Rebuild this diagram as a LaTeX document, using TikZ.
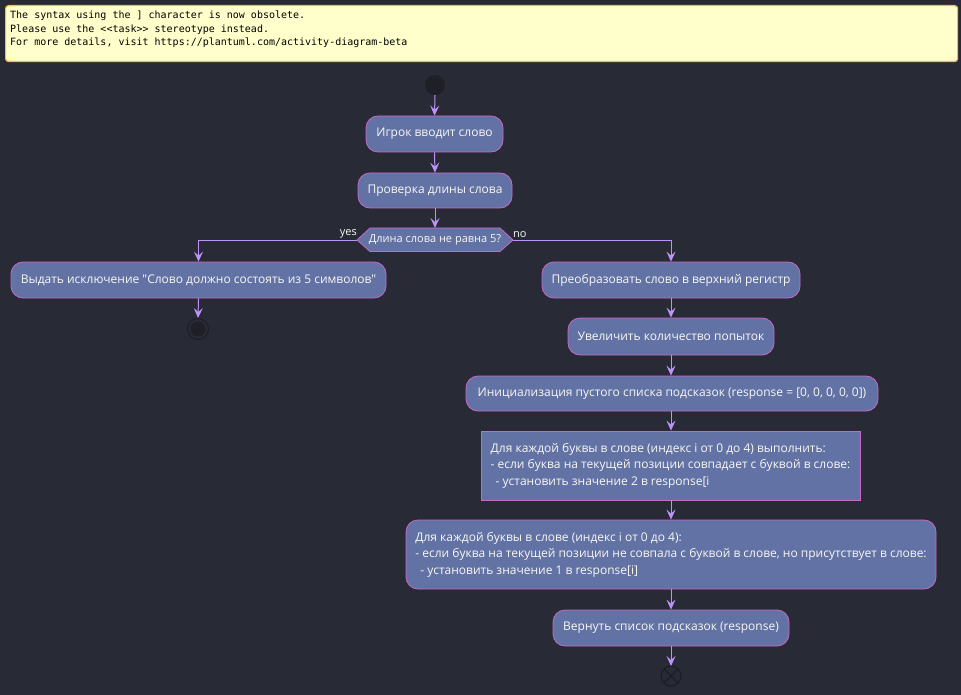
\documentclass[tikz,border=0pt]{standalone}
\usepackage{fontspec}
\newfontfamily\uifont{Open Sans}
\setmonofont{DejaVu Sans Mono}
\usetikzlibrary{arrows.meta}
\definecolor{bg}{HTML}{282A36}
\definecolor{notefill}{HTML}{FFFFCC}
\definecolor{noteline}{HTML}{F2B94B}
\definecolor{actfill}{HTML}{6272A4}
\definecolor{actline}{HTML}{C868C8}
\definecolor{flow}{HTML}{BD93F9}
\definecolor{txt}{HTML}{F8F8F2}
\definecolor{dot}{HTML}{1E1F27}
\definecolor{ring}{HTML}{1C1D24}
\tikzset{
  act/.style={draw=actline, fill=actfill, line width=0.8pt, rounded corners=12pt,
    text=txt, font=\uifont\fontsize{12}{16.5}\selectfont, inner sep=0pt},
  actbox/.style={act, rounded corners=0pt},
  flowline/.style={draw=flow, line width=1pt, -{Stealth[length=10pt, width=9pt, inset=4pt]}},
  lbl/.style={text=txt, font=\uifont\fontsize{11}{13}\selectfont, inner sep=0pt}
}
\begin{document}
\begin{tikzpicture}[x=1pt, y=-1pt]
\fill[bg] (0,0) rectangle (961,695);
\useasboundingbox (0,0) rectangle (961,695);

% warning note
\node[draw=noteline, fill=notefill, line width=1.2pt, rounded corners=3pt,
  minimum width=952, minimum height=56, anchor=north west, inner sep=0pt] (note) at (5,5) {};
\node[anchor=north west, inner sep=0pt, align=left, font=\ttfamily\fontsize{10}{13.5}\selectfont, text=black]
  (notetext) at (10,11) {The syntax using the ] character is now obsolete.\\
Please use the <{}<task>{}> stereotype instead.\\
For more details, visit https://plantuml.com/activity-diagram-beta};

% start
\fill[dot] (435,85) circle (10) coordinate (start);
\coordinate (startb) at (435,95);

% main column
\node[act, minimum width=137, minimum height=36] (a1) at (434.5,134) {Игрок вводит слово};
\node[act, minimum width=154, minimum height=35] (a2) at (435,190.5) {Проверка длины слова};

% decision
\coordinate (dtop) at (435,228);
\coordinate (dl) at (357,240);
\coordinate (dr) at (513,240);
\draw[draw=actline, fill=actfill, line width=0.8pt]
  (357,240) -- (370,228) -- (500,228) -- (513,240) -- (500,251.5) -- (370,251.5) -- cycle;
\node[lbl] (dtext) at (435,240) {Длина слова не равна 5?};
\node[lbl, anchor=south east] (yes) at (357,238) {yes};
\node[lbl, anchor=south west] (no) at (513,238) {no};

% left branch
\node[act, minimum width=375, minimum height=36] (err) at (198.5,280)
  {Выдать исключение "Слово должно состоять из 5 символов"};
\draw[ring, line width=1pt] (198,329) circle (10.5);
\fill[dot] (198,329) circle (7.5) coordinate (stop);
\coordinate (stopt) at (198,318);

% right branch
\node[act, minimum width=258, minimum height=36] (r1) at (671,280) {Преобразовать слово в верхний регистр};
\node[act, minimum width=206, minimum height=37] (r2) at (671,336.5) {Увеличить количество попыток};
\node[act, minimum width=412, minimum height=35] (r3) at (672,393.5)
  {Инициализация пустого списка подсказок (response = [0, 0, 0, 0, 0])};
\node[actbox, minimum width=379, minimum height=69, align=left] (r4) at (670.5,465.5)
  {Для каждой буквы в слове (индекс i от 0 до 4) выполнить:\\
- если буква на текущей позиции совпадает с буквой в слове:\\
\hspace*{5pt}- установить значение 2 в response[i};
\node[act, minimum width=530, minimum height=69, align=left] (r5) at (671,554.5)
  {Для каждой буквы в слове (индекс i от 0 до 4):\\
- если буква на текущей позиции не совпала с буквой в слове, но присутствует в слове:\\
\hspace*{5pt}- установить значение 1 в response[i]};
\node[act, minimum width=236, minimum height=36] (r6) at (671,628) {Вернуть список подсказок (response)};

% final end
\draw[ring, line width=1.2pt] (671,676) circle (10) coordinate (fin);
\draw[ring, line width=1.2pt] (664,669) -- (678,683) (678,669) -- (664,683);
\coordinate (fint) at (671,666);

% connectors
\draw[flowline] (startb) -- (a1.north);
\draw[flowline] (a1.south) -- (a2.north);
\draw[flowline] (a2.south) -- (dtop);
\draw[flowline] (dl) -| (err.north);
\draw[flowline] (dr) -| (r1.north);
\draw[flowline] (err.south) -- (stopt);
\draw[flowline] (r1.south) -- (r2.north);
\draw[flowline] (r2.south) -- (r3.north -| r2.south);
\draw[flowline] (r3.south -| r2.south) -- (r4.north -| r2.south);
\draw[flowline] (r4.south -| r2.south) -- (r5.north);
\draw[flowline] (r5.south) -- (r6.north);
\draw[flowline] (r6.south) -- (fint);
\end{tikzpicture}
\end{document}
